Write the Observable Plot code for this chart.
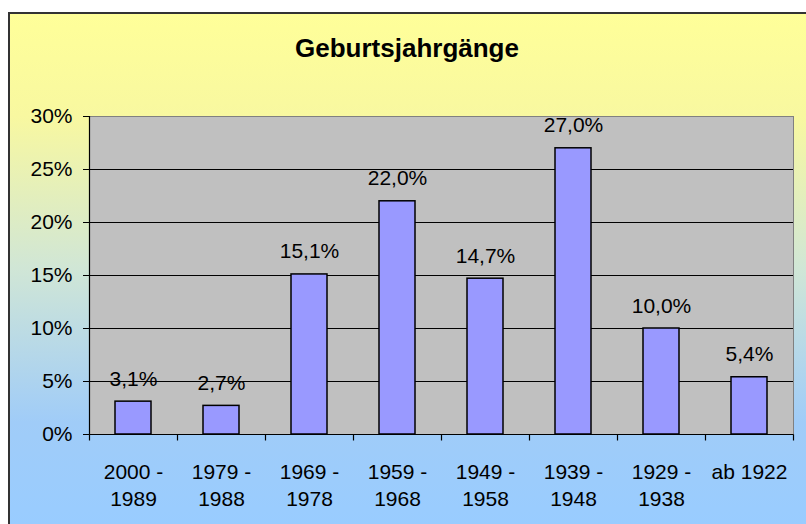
<!DOCTYPE html>
<html><head><meta charset="utf-8">
<script src="https://cdn.jsdelivr.net/npm/d3@7"></script>
<script src="https://cdn.jsdelivr.net/npm/@observablehq/plot@0.6"></script>
<style>
body{margin:0;background:#fff;}
#wrap{position:relative;width:806px;height:524px;overflow:hidden;font-family:Arial,"Liberation Sans",sans-serif;}
#bg{position:absolute;left:8px;top:12px;width:798px;height:512px;box-sizing:border-box;border-left:2px solid #333;border-top:2px solid #333;
background:linear-gradient(to bottom,#FFFF99 0%,#F8F8A0 20%,#D0E6D6 50%,#A0CCF8 80%,#99CCFF 100%);}
#title{position:absolute;left:8px;width:798px;top:35px;text-align:center;font-weight:bold;font-size:26px;line-height:26px;color:#000;}
#wrap svg{position:absolute;left:0;top:0;}
</style></head>
<body>
<div id="wrap"><div id="bg"></div><div id="title">Geburtsjahrgänge</div></div>
<script>
const categories = ["2000 -\n1989", "1979 -\n1988", "1969 -\n1978", "1959 -\n1968", "1949 -\n1958", "1939 -\n1948", "1929 -\n1938", "ab 1922"];
const values = [3.1, 2.7, 15.1, 22.0, 14.7, 27.0, 10.0, 5.4];
const yTicks = [0, 5, 10, 15, 20, 25, 30];

const data = categories.map((c, i) => ({cat: c, value: values[i]}));
const fmt = v => v.toFixed(1).replace(".", ",") + "%";

const chart = Plot.plot({
  width: 806,
  height: 524,
  marginLeft: 89,
  marginRight: 13,
  marginTop: 116,
  marginBottom: 90,
  style: {background: "transparent", fontSize: "21px", fontFamily: "Arial, 'Liberation Sans', sans-serif", color: "black"},
  x: {domain: categories, padding: 0, axis: null},
  y: {domain: [0, 30], axis: null},
  marks: [
    Plot.frame({fill: "#C0C0C0", stroke: "#808080"}),
    Plot.ruleY(yTicks.filter(t => t > 0 && t < 30), {stroke: "black", strokeWidth: 1}),
    Plot.barY(data, {x: "cat", y: "value", fill: "#9999FF", stroke: "black", strokeWidth: 1.5, insetLeft: 26, insetRight: 26}),
    Plot.text(data, {x: "cat", y: "value", text: d => fmt(d.value), dy: -16, lineAnchor: "bottom", fill: "black"}),
    Plot.text(data, {x: "cat", text: "cat", frameAnchor: "bottom", lineAnchor: "top", dy: 25, lineHeight: 1.29, fill: "black"}),
    Plot.axisY({ticks: yTicks, tickFormat: d => d + "%", tickSize: 6, tickPadding: 11, stroke: "black", label: null}),
    (index, scales) => {
      const x = scales.x, y = scales.y;
      const step = x(categories[1]) - x(categories[0]);
      const y0 = Math.round(y(0)) + 0.5, yTop = y(30);
      const bounds = categories.map(c => Math.round(x(c)) + 0.5);
      bounds.push(Math.round(x(categories[categories.length - 1]) + step) + 0.5);
      const g = d3.create("svg:g").attr("stroke", "black").attr("stroke-width", 1.2);
      g.append("line").attr("x1", bounds[0]).attr("x2", bounds[0]).attr("y1", yTop).attr("y2", y0);
      g.append("line").attr("x1", bounds[0]).attr("x2", bounds[bounds.length - 1]).attr("y1", y0).attr("y2", y0);
      for (const b of bounds) g.append("line").attr("x1", b).attr("x2", b).attr("y1", y0).attr("y2", y0 + 6);
      return g.node();
    }
  ]
});
document.getElementById("wrap").appendChild(chart);
</script>
</body></html>
